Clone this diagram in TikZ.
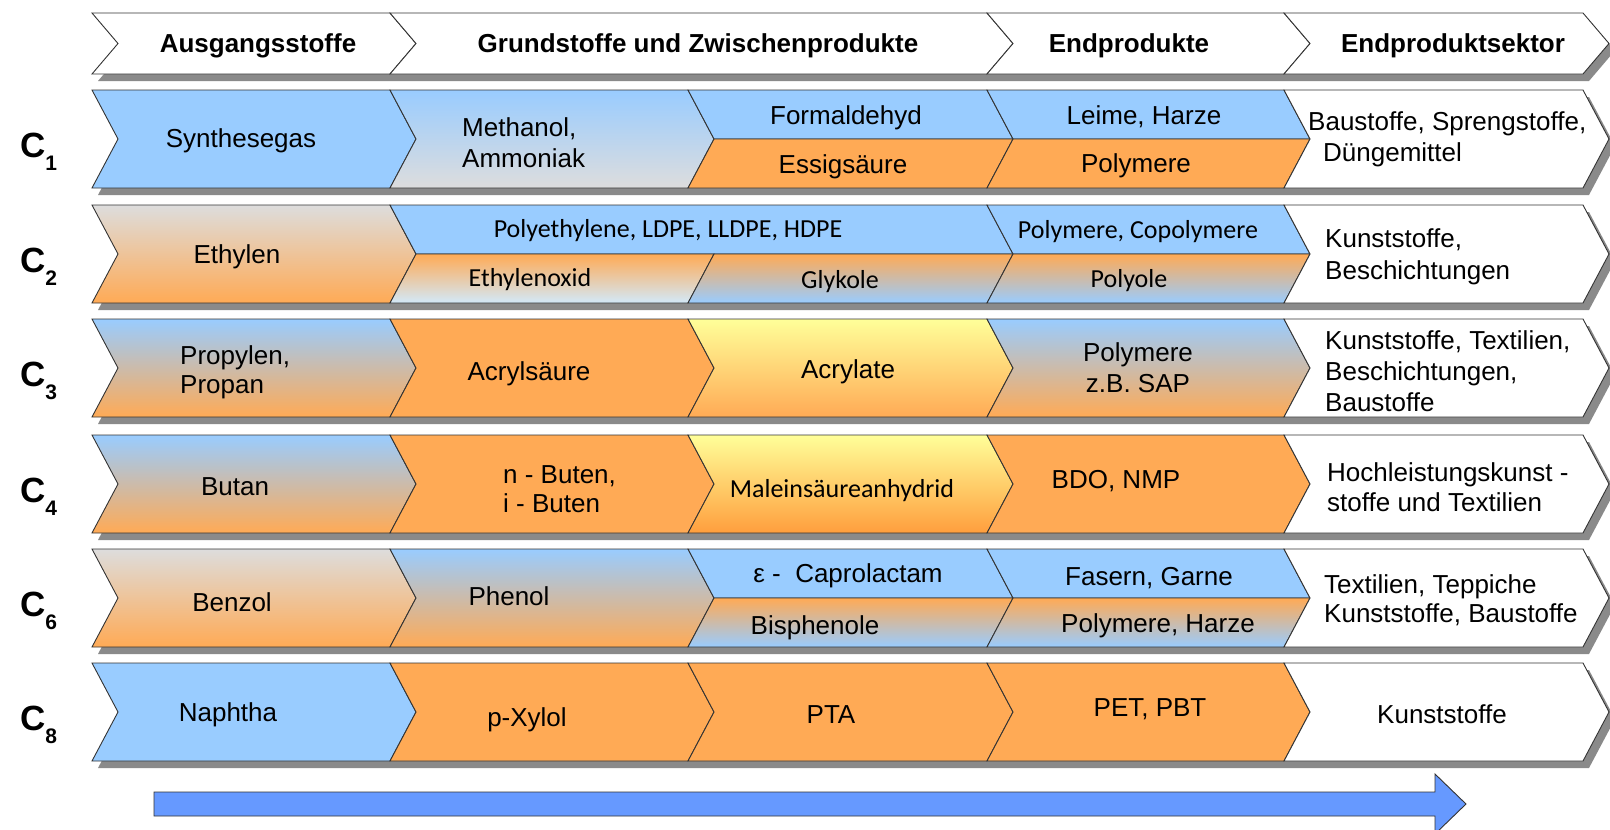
\documentclass[tikz,border=0pt]{standalone}
\usepackage{fontspec}
\setmainfont{Liberation Sans}
\newfontfamily\calfont{Carlito}
\definecolor{cblue}{HTML}{99CCFF}
\definecolor{corange}{HTML}{FFAA55}
\definecolor{cgray}{HTML}{DDDDDD}
\definecolor{cyellow}{HTML}{FFFF99}
\definecolor{clblue}{HTML}{D2E9F9}
\definecolor{cdorange}{HTML}{FF9E3D}
\definecolor{arrowblue}{HTML}{6699FF}
\definecolor{shadowgray}{HTML}{8A8A8A}
\definecolor{edge}{HTML}{333333}
\newcommand\fullcell[5]{\path[#1] (#2,#4) -- (#3,#4) -- ({#3+26},{(#4+#5)/2}) -- (#3,#5) -- (#2,#5) -- ({#2+26},{(#4+#5)/2}) -- cycle;}
\newcommand\uppercell[5]{\path[#1] (#2,#4) -- (#3,#4) -- ({#3+26},#5) -- ({#2+26},#5) -- cycle;}
\newcommand\lowercell[5]{\path[#1] ({#2+26},#4) -- ({#3+26},#4) -- (#3,#5) -- (#2,#5) -- cycle;}
\newcommand\shadowrow[2]{\path[fill=shadowgray] (98,{#1+7}) -- (1589,{#1+7}) -- (1615,{(#1+#2)/2+7}) -- (1589,{#2+7}) -- (98,{#2+7}) -- (124,{(#1+#2)/2+7}) -- cycle;}
\newcommand\clab[1]{\fontsize{35}{35}\selectfont\bfseries C\raisebox{-13pt}{\fontsize{21}{21}\selectfont #1}}
\tikzset{
  cl/.style={draw=edge, line width=0.9pt, line join=miter},
  blu/.style={cl, fill=cblue},
  org/.style={cl, fill=corange},
  wht/.style={cl, fill=white},
  grd/.style 2 args={cl, top color=#1, bottom color=#2},
  txt/.style={inner sep=0pt, font=\fontsize{26}{31}\selectfont},
  ctxt/.style={inner sep=0pt, font=\calfont\fontsize{26}{31}\selectfont},
  hdr/.style={inner sep=0pt, font=\bfseries\fontsize{26}{31}\selectfont},
  lab/.style={inner sep=0pt, anchor=base west},
}
\begin{document}
\begin{tikzpicture}[x=1pt,y=-1pt]
\useasboundingbox (0,0) rectangle (1610,830);
\clip (0,0) rectangle (1610,830);
% shadows
\shadowrow{13}{74}
\shadowrow{90}{188}
\shadowrow{205}{303}
\shadowrow{319}{417}
\shadowrow{435}{533}
\shadowrow{549}{647}
\shadowrow{663}{761}
% header
\fullcell{wht}{92}{390}{13}{74}
\fullcell{wht}{390}{987}{13}{74}
\fullcell{wht}{987}{1284}{13}{74}
\fullcell{wht}{1284}{1583}{13}{74}
% row C1
\fullcell{blu}{92}{390}{90}{188}
\fullcell{grd={cblue}{cgray}}{390}{688}{90}{188}
\uppercell{blu}{688}{987}{90}{139}
\lowercell{org}{688}{987}{139}{188}
\uppercell{blu}{987}{1284}{90}{139}
\lowercell{org}{987}{1284}{139}{188}
\fullcell{wht}{1284}{1583}{90}{188}
% row C2
\fullcell{grd={cgray}{corange}}{92}{390}{205}{303}
\uppercell{blu}{390}{987}{205}{254}
\lowercell{grd={corange}{clblue}}{390}{688}{254}{303}
\lowercell{grd={corange}{cblue}}{688}{987}{254}{303}
\uppercell{blu}{987}{1284}{205}{254}
\lowercell{grd={corange}{cblue}}{987}{1284}{254}{303}
\fullcell{wht}{1284}{1583}{205}{303}
% row C3
\fullcell{grd={cblue}{corange}}{92}{390}{319}{417}
\fullcell{org}{390}{688}{319}{417}
\fullcell{grd={cyellow}{corange}}{688}{987}{319}{417}
\fullcell{grd={cblue}{corange}}{987}{1284}{319}{417}
\fullcell{wht}{1284}{1583}{319}{417}
% row C4
\fullcell{grd={cblue}{corange}}{92}{390}{435}{533}
\fullcell{org}{390}{688}{435}{533}
\fullcell{grd={cyellow}{cdorange}}{688}{987}{435}{533}
\fullcell{org}{987}{1284}{435}{533}
\fullcell{wht}{1284}{1583}{435}{533}
% row C6
\fullcell{grd={cgray}{corange}}{92}{390}{549}{647}
\fullcell{grd={cblue}{corange}}{390}{688}{549}{647}
\uppercell{blu}{688}{987}{549}{598}
\lowercell{grd={corange}{cblue}}{688}{987}{598}{647}
\uppercell{blu}{987}{1284}{549}{598}
\lowercell{grd={corange}{cblue}}{987}{1284}{598}{647}
\fullcell{wht}{1284}{1583}{549}{647}
% row C8
\fullcell{blu}{92}{390}{663}{761}
\fullcell{org}{390}{688}{663}{761}
\fullcell{org}{688}{987}{663}{761}
\fullcell{org}{987}{1284}{663}{761}
\fullcell{wht}{1284}{1583}{663}{761}
% big arrow
\path[draw=edge, line width=0.9pt, fill=arrowblue] (154,792) -- (1435,792) -- (1435,774) -- (1466,804) -- (1435,834) -- (1435,816) -- (154,816) -- cycle;
% header texts
\node[hdr, anchor=base] (h1) at (258,52) {Ausgangsstoffe};
\node[hdr, anchor=base] (h2) at (698,52) {Grundstoffe und Zwischenprodukte};
\node[hdr, anchor=base] (h3) at (1129,52) {Endprodukte};
\node[hdr, anchor=base] (h4) at (1453,52) {Endproduktsektor};
% C labels
\node[lab] (c1) at (20,157) {\clab{1}};
\node[lab] (c2) at (20,272) {\clab{2}};
\node[lab] (c3) at (20,386) {\clab{3}};
\node[lab] (c4) at (20,502) {\clab{4}};
\node[lab] (c6) at (20,616) {\clab{6}};
\node[lab] (c8) at (20,730) {\clab{8}};
% row C1 texts
\node[txt, anchor=base] (syn) at (241,147) {Synthesegas};
\node[txt, anchor=base west] (meth) at (462,136) {\begin{tabular}[t]{@{}l@{}}Methanol,\\Ammoniak\end{tabular}};
\node[txt, anchor=base] (form) at (846,124) {Formaldehyd};
\node[txt, anchor=base] (essig) at (843,173) {Essigsäure};
\node[txt, anchor=base] (leime) at (1144,124) {Leime, Harze};
\node[txt, anchor=base] (polyA) at (1136,172) {Polymere};
\node[txt, anchor=base west] (bauA) at (1308,130) {\begin{tabular}[t]{@{}l@{}}Baustoffe, Sprengstoffe,\\\hspace*{15pt}Düngemittel\end{tabular}};
% row C2 texts
\node[txt, anchor=base] (eth) at (237,263) {Ethylen};
\node[ctxt, anchor=base] (pe) at (668,237) {Polyethylene, LDPE, LLDPE, HDPE};
\node[ctxt, anchor=base] (eo) at (530,286) {Ethylenoxid};
\node[ctxt, anchor=base] (gly) at (840,288) {Glykole};
\node[ctxt, anchor=base] (copoly) at (1138,238) {Polymere, Copolymere};
\node[ctxt, anchor=base] (polyole) at (1129,287) {Polyole};
\node[txt, anchor=base west, font=\fontsize{26}{32}\selectfont] (kunstB) at (1325,247) {\begin{tabular}[t]{@{}l@{}}Kunststoffe,\\Beschichtungen\end{tabular}};
% row C3 texts
\node[txt, anchor=base west, font=\fontsize{26}{29}\selectfont] (prop) at (180,364) {\begin{tabular}[t]{@{}l@{}}Propylen,\\Propan\end{tabular}};
\node[txt, anchor=base] (acryls) at (529,380) {Acrylsäure};
\node[txt, anchor=base] (acrylate) at (848,378) {Acrylate};
\node[txt, anchor=base, font=\fontsize{26}{31}\selectfont] (sap) at (1138,361) {\begin{tabular}[t]{@{}c@{}}Polymere\\z.B. SAP\end{tabular}};
\node[txt, anchor=base west] (kunstC) at (1325,349) {\begin{tabular}[t]{@{}l@{}}Kunststoffe, Textilien,\\Beschichtungen,\\Baustoffe\end{tabular}};
% row C4 texts
\node[txt, anchor=base] (butan) at (235,495) {Butan};
\node[txt, anchor=base west, font=\fontsize{26}{29}\selectfont] (buten) at (503,483) {\begin{tabular}[t]{@{}l@{}}n - Buten,\\i - Buten\end{tabular}};
\node[ctxt, anchor=base] (malein) at (842,497) {Maleinsäureanhydrid};
\node[txt, anchor=base] (bdo) at (1116,488) {BDO, NMP};
\node[txt, anchor=base west, font=\fontsize{26}{30}\selectfont] (hoch) at (1327,481) {\begin{tabular}[t]{@{}l@{}}Hochleistungskunst -\\stoffe und Textilien\end{tabular}};
% row C6 texts
\node[txt, anchor=base] (benzol) at (232,611) {Benzol};
\node[txt, anchor=base] (phenol) at (509,605) {Phenol};
\node[txt, anchor=base] (capro) at (848,582) {ε -\ \ Caprolactam};
\node[txt, anchor=base] (fasern) at (1149,585) {Fasern, Garne};
\node[txt, anchor=base] (bisph) at (815,634) {Bisphenole};
\node[txt, anchor=base] (polyharz) at (1158,632) {Polymere, Harze};
\node[txt, anchor=base west, font=\fontsize{26}{29}\selectfont] (textil) at (1324,593) {\begin{tabular}[t]{@{}l@{}}Textilien, Teppiche\\Kunststoffe, Baustoffe\end{tabular}};
% row C8 texts
\node[txt, anchor=base] (naph) at (228,721) {Naphtha};
\node[txt, anchor=base] (pxyl) at (527,726) {p-Xylol};
\node[txt, anchor=base] (pta) at (831,723) {PTA};
\node[txt, anchor=base] (pet) at (1150,716) {PET, PBT};
\node[txt, anchor=base] (kunstF) at (1442,723) {Kunststoffe};
\end{tikzpicture}
\end{document}
